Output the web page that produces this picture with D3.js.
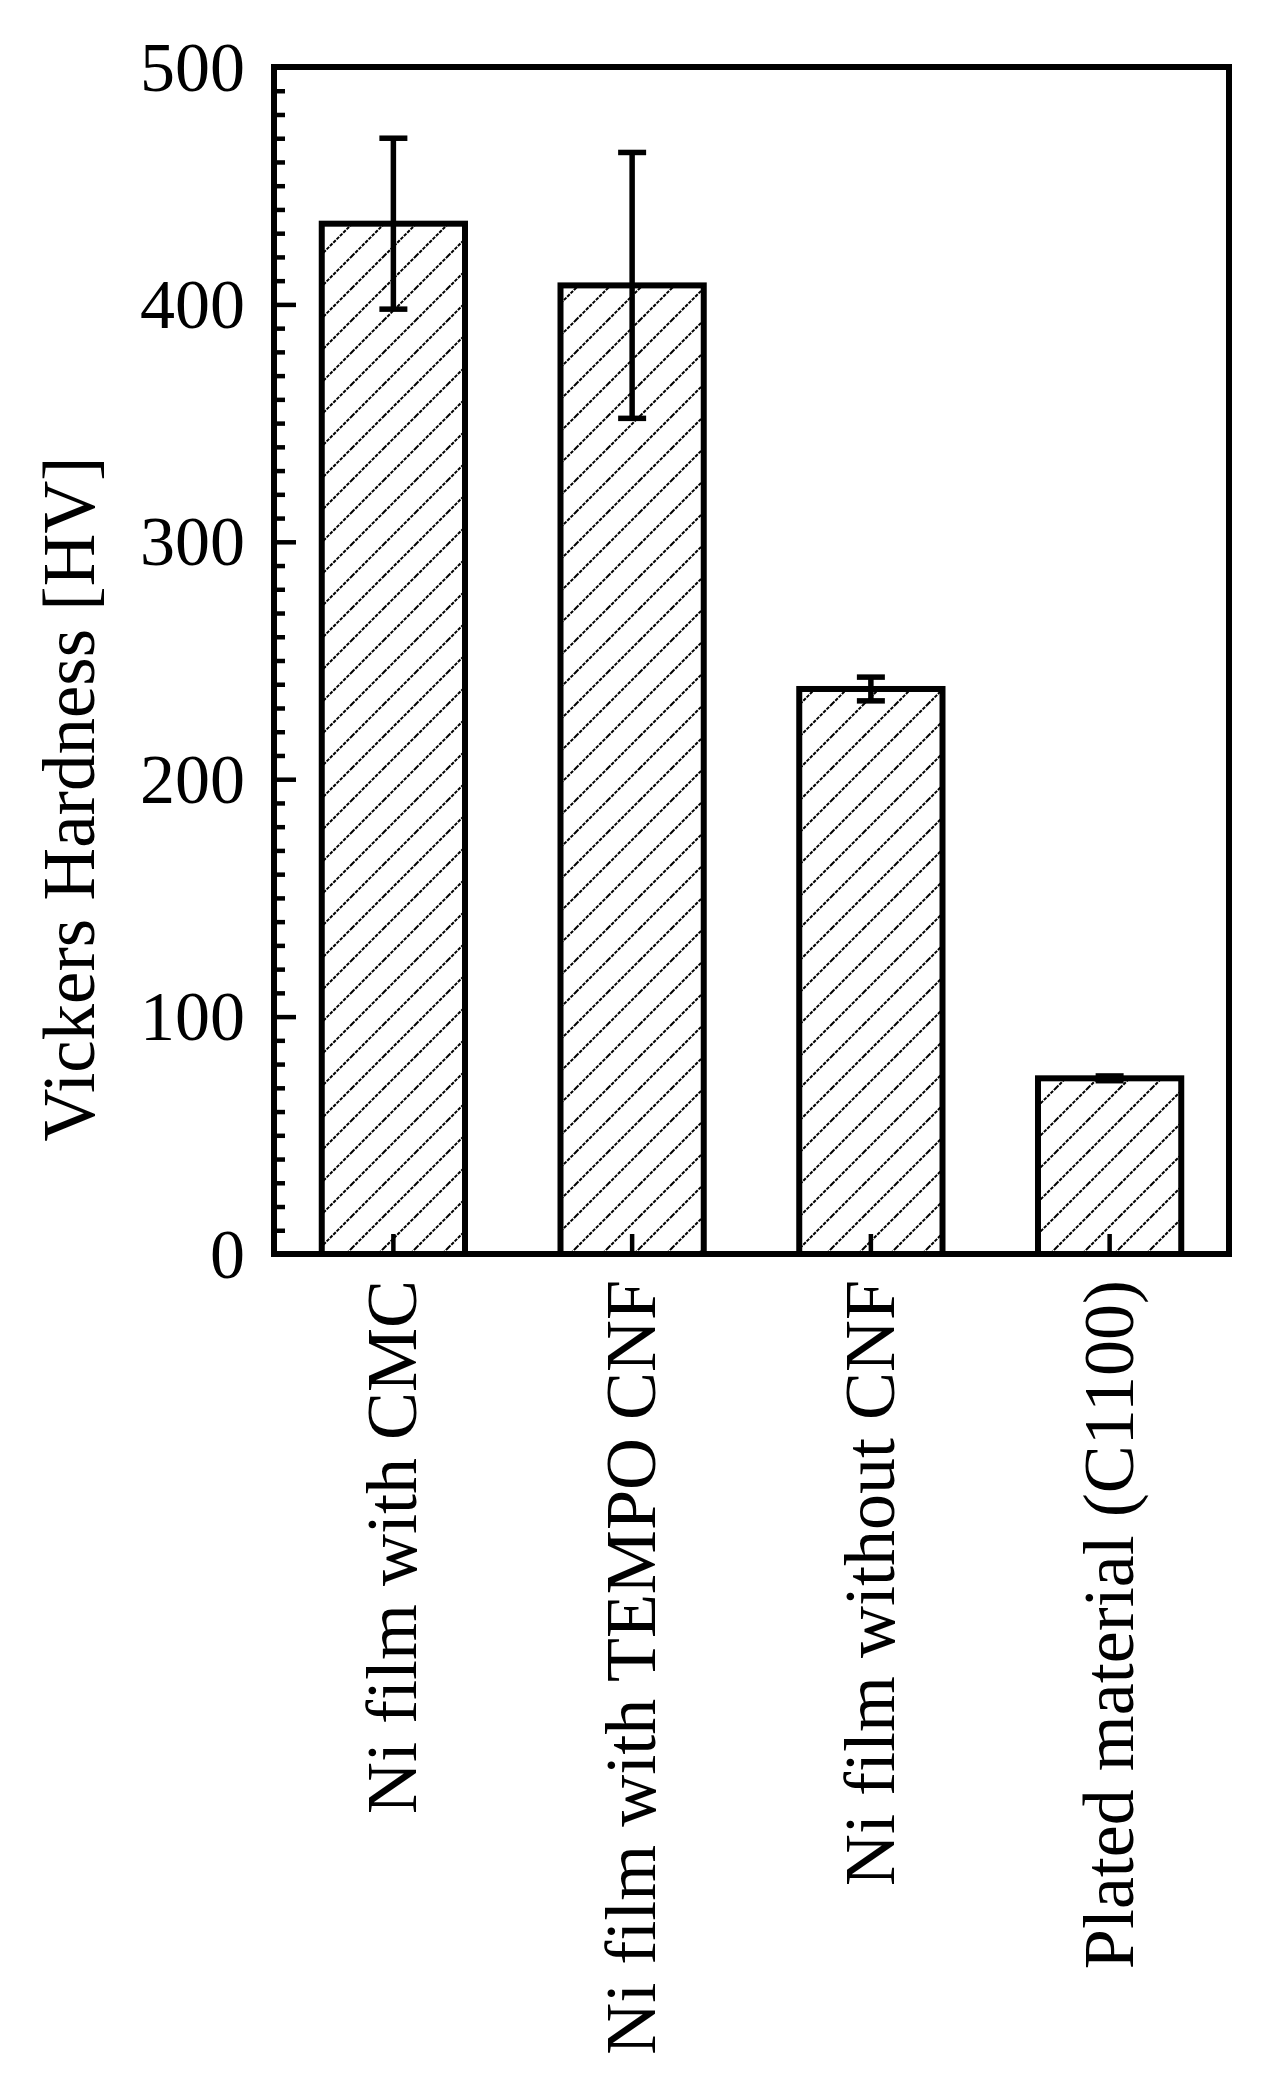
<!DOCTYPE html>
<html>
<head>
<meta charset="utf-8">
<script src="https://cdn.jsdelivr.net/npm/d3@7"></script>
<style>
  html, body { margin: 0; padding: 0; background: #fff; }
  svg { display: block; }
  text { font-family: "Liberation Serif", "Times New Roman", serif; fill: #000; }
</style>
</head>
<body>
<script>
const categories = ["Ni film with CMC", "Ni film with TEMPO CNF", "Ni film without CNF", "Plated material (C1100)"];
const values = [434, 408, 238, 74];
const errors = [36, 56, 5, 1];
const yTicks = [0, 100, 200, 300, 400, 500];
const yLabel = "Vickers Hardness [HV]";

const W = 1280, H = 2095;
const m = { left: 274, top: 67, right: 1229, bottom: 1254 };

const svg = d3.select("body").append("svg").attr("width", W).attr("height", H);

const defs = svg.append("defs");
const pat = defs.append("pattern")
  .attr("id", "hatch").attr("patternUnits", "userSpaceOnUse")
  .attr("width", 32).attr("height", 32);
pat.append("rect").attr("width", 32).attr("height", 32).attr("fill", "#fff");
pat.append("path")
  .attr("d", "M-8,8 L8,-8 M0,32 L32,0 M24,40 L40,24")
  .attr("stroke", "#000").attr("stroke-width", 2)
  .attr("stroke-dasharray", "3.5,1.2");

const x = d3.scaleBand().domain(categories).range([m.left, m.right])
  .paddingInner(0.4).paddingOuter(0.2);
const y = d3.scaleLinear().domain([0, 500]).range([m.bottom, m.top]);

const data = categories.map((c, i) => ({ c, v: values[i], e: errors[i] }));

// bars
svg.append("g").selectAll("rect").data(data).join("rect")
  .attr("x", d => x(d.c)).attr("width", x.bandwidth())
  .attr("y", d => y(d.v)).attr("height", d => y(0) - y(d.v))
  .attr("fill", "url(#hatch)").attr("stroke", "#000").attr("stroke-width", 6);

// error bars
const eb = svg.append("g").attr("stroke", "#000").attr("stroke-width", 5.5);
data.forEach(d => {
  const cx = x(d.c) + x.bandwidth() / 2;
  eb.append("line").attr("x1", cx).attr("x2", cx).attr("y1", y(d.v + d.e)).attr("y2", y(d.v - d.e));
  [d.v + d.e, d.v - d.e].forEach(v => {
    eb.append("line").attr("x1", cx - 14).attr("x2", cx + 14).attr("y1", y(v)).attr("y2", y(v));
  });
});

// minor y ticks
const minor = d3.range(10, 500, 10).filter(v => v % 100 !== 0);
const gMinor = svg.append("g").attr("transform", `translate(${m.left},0)`)
  .call(d3.axisLeft(y).tickValues(minor).tickSize(-11).tickFormat(""));
gMinor.select(".domain").remove();
gMinor.selectAll("line").attr("stroke", "#000").attr("stroke-width", 4.5);

// major y ticks
const gY = svg.append("g").attr("transform", `translate(${m.left},0)`)
  .call(d3.axisLeft(y).tickValues(yTicks).tickSize(-22).tickPadding(29).tickFormat(d3.format("d")));
gY.select(".domain").remove();
gY.selectAll("line").attr("stroke", "#000").attr("stroke-width", 4.5);
gY.selectAll("text").attr("font-size", 70).attr("font-family", "Liberation Serif")
  .attr("dy", "0.33em");

// x ticks
const gX = svg.append("g").attr("transform", `translate(0,${m.bottom})`)
  .call(d3.axisBottom(x).tickSize(-20).tickFormat(""));
gX.select(".domain").remove();
gX.selectAll("line").attr("stroke", "#000").attr("stroke-width", 4.5);

// x labels
svg.append("g").selectAll("text").data(categories).join("text")
  .attr("transform", d => `translate(${x(d) + x.bandwidth() / 2 + 23},${1280}) rotate(-90)`)
  .attr("text-anchor", "end").attr("font-size", 72)
  .text(d => d);

// frame
svg.append("rect").attr("x", m.left).attr("y", m.top)
  .attr("width", m.right - m.left).attr("height", m.bottom - m.top)
  .attr("fill", "none").attr("stroke", "#000").attr("stroke-width", 6);

// y title
svg.append("text")
  .attr("transform", `translate(94,799) rotate(-90)`)
  .attr("text-anchor", "middle").attr("font-size", 73)
  .text(yLabel);
</script>
</body>
</html>
